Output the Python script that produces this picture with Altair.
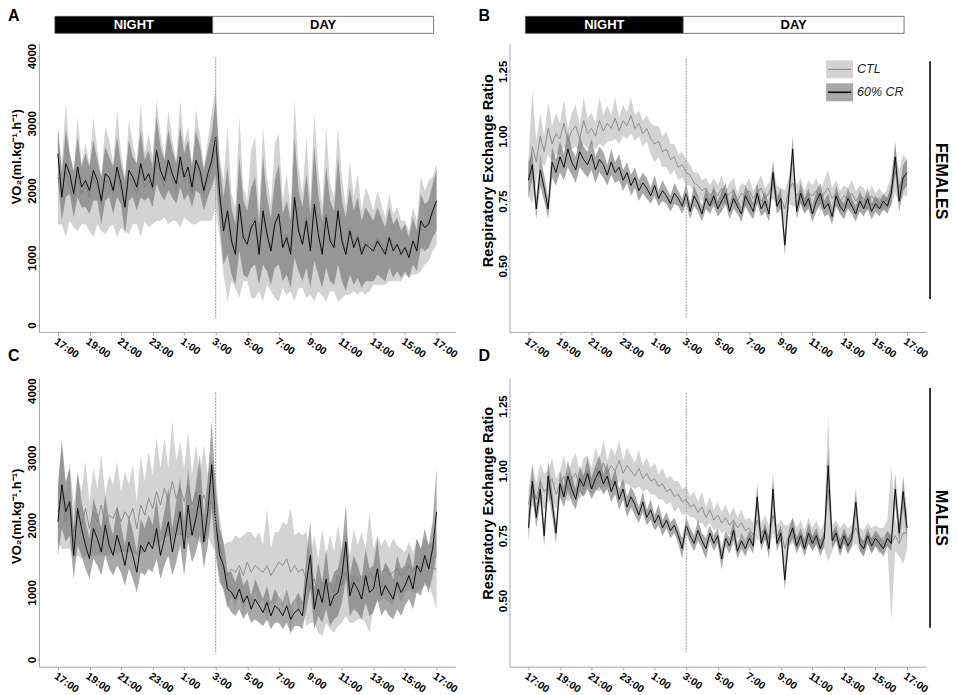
import json
import altair as alt
import pandas as pd

FONT = "Liberation Sans"

# ---- time axis (hours after 17:00, one sample every 15 min) ----
STEP_H = 0.25
T = [i * STEP_H for i in range(97)]
X_DOMAIN = [-1.2, 25.2]
TICK_HOURS = [0, 2, 4, 6, 8, 10, 12, 14, 16, 18, 20, 22, 24]
TICK_LABELS = ["17:00", "19:00", "21:00", "23:00", "1:00", "3:00", "5:00",
               "7:00", "9:00", "11:00", "13:00", "15:00", "17:00"]
LIGHTS_ON_H = 10  # 3:00
PHASES = ["NIGHT", "DAY"]
PHASE_START = [0, 10]
PHASE_END = [10, 24]
GROUPS = ["CTL", "60% CR"]

VO2_TICKS = [0, 1000, 2000, 3000, 4000]
RER_TICKS = [0.5, 0.75, 1.0, 1.25]
VO2_DOMAIN = [-105, 4190]
RER_DOMAIN = [0.245, 1.358]
VO2_VLINE = [3980, 90]
RER_VLINE = [1.30, 0.30]

# ---- A: females VO2 ----
A_CTL_MEAN = [
    2200, 1950, 2300, 2050, 1850, 2250, 1950, 2100,
    1900, 2200, 2050, 1800, 2150, 2100, 1950, 2250,
    2000, 1800, 2200, 2100, 1950, 2300, 2050, 2150,
    2000, 2450, 2200, 2050, 2350, 2150, 2000, 2400,
    2150, 2250, 1950, 2350, 2200, 1950, 2150, 2350,
    2650, 1900, 1450, 1650, 1300, 1150, 1750, 1350,
    1250, 1500, 1600, 1100, 1650, 1400, 1150, 1550,
    1600, 1200, 1350, 1100, 1850, 1450, 1250, 1600,
    1150, 1750, 1400, 1100, 1650, 1300, 1200, 1650,
    1300, 1100, 1450, 1200, 1350, 1100, 1250, 1200,
    1150, 1300, 1200, 1100, 1300, 1150, 1200, 1100,
    1150, 1050, 1250, 1150, 1500, 1450, 1550, 1650,
    1800]
A_CTL_SD = [
    700, 450, 1000, 500, 400, 850, 450, 600,
    500, 900, 550, 400, 800, 650, 450, 950,
    550, 400, 850, 600, 450, 1000, 500, 700,
    500, 900, 650, 450, 850, 600, 450, 950,
    550, 700, 450, 850, 650, 400, 600, 800,
    900, 600, 700, 1300, 650, 600, 1350, 700,
    600, 1100, 1200, 600, 1300, 800, 650, 1150,
    1250, 650, 900, 600, 1500, 900, 700, 1200,
    700, 1400, 900, 650, 1300, 800, 700, 1300,
    900, 650, 1000, 700, 900, 600, 800, 700,
    550, 700, 600, 500, 650, 500, 550, 450,
    400, 350, 500, 400, 700, 550, 600, 550,
    600]
A_CR_MEAN = [
    2550, 1900, 2400, 2250, 1950, 2350, 2050, 2150,
    2000, 2300, 2150, 1850, 2250, 2200, 2000, 2350,
    2100, 1750, 2300, 2200, 2050, 2400, 2150, 2250,
    2050, 2600, 2300, 2150, 2450, 2250, 2100, 2500,
    2200, 2350, 2050, 2450, 2300, 2000, 2250, 2450,
    2800, 1950, 1400, 1700, 1250, 1050, 1800, 1300,
    1200, 1450, 1550, 1050, 1700, 1350, 1100, 1500,
    1650, 1150, 1300, 1050, 1900, 1400, 1200, 1550,
    1100, 1800, 1350, 1050, 1600, 1250, 1150, 1700,
    1250, 1050, 1400, 1150, 1300, 1050, 1200, 1150,
    1100, 1250, 1150, 1050, 1300, 1100, 1200, 1050,
    1150, 1000, 1250, 1100, 1550, 1450, 1500, 1700,
    1850]
A_CR_SD = [
    400, 350, 500, 300, 350, 450, 300, 400,
    350, 450, 300, 350, 400, 300, 350, 450,
    300, 400, 450, 300, 350, 500, 300, 350,
    300, 500, 350, 300, 450, 350, 300, 450,
    350, 400, 300, 450, 350, 300, 350, 400,
    550, 450, 500, 650, 500, 450, 700, 550,
    500, 600, 650, 450, 800, 550, 500, 650,
    750, 500, 550, 500, 900, 600, 550, 700,
    550, 850, 600, 500, 750, 600, 550, 800,
    600, 550, 650, 550, 600, 500, 550, 500,
    450, 500, 450, 400, 450, 400, 400, 350,
    350, 300, 350, 300, 400, 350, 350, 400,
    450]

# ---- B: females RER ----
B_CTL_MEAN = [
    0.84, 0.96, 0.90, 1.00, 0.94, 1.03, 0.97, 1.01,
    0.99, 1.05, 0.98, 1.02, 1.04, 0.99, 1.06, 1.01,
    1.03, 1.00, 1.06, 1.02, 1.05, 1.03, 1.07, 1.02,
    1.06, 1.04, 1.08, 1.03, 1.05, 1.01, 1.03, 0.99,
    0.97, 0.98, 0.94, 0.95, 0.91, 0.92, 0.88, 0.89,
    0.86, 0.85, 0.82, 0.81, 0.79, 0.80, 0.77, 0.79,
    0.77, 0.80, 0.76, 0.78, 0.79, 0.75, 0.78, 0.77,
    0.79, 0.76, 0.78, 0.80, 0.76, 0.78, 0.82, 0.77,
    0.76, 0.72, 0.79, 0.82, 0.77, 0.79, 0.75, 0.78,
    0.77, 0.79, 0.75, 0.78, 0.80, 0.76, 0.78, 0.75,
    0.77, 0.76, 0.78, 0.75, 0.77, 0.76, 0.74, 0.77,
    0.75, 0.76, 0.74, 0.76, 0.79, 0.87, 0.80, 0.85,
    0.84]
B_CTL_SD = [
    0.07, 0.22, 0.08, 0.09, 0.06, 0.10, 0.07, 0.08,
    0.06, 0.09, 0.05, 0.07, 0.08, 0.05, 0.09, 0.06,
    0.06, 0.05, 0.09, 0.06, 0.07, 0.05, 0.08, 0.05,
    0.06, 0.05, 0.07, 0.05, 0.05, 0.05, 0.05, 0.06,
    0.07, 0.06, 0.06, 0.07, 0.06, 0.05, 0.05, 0.05,
    0.05, 0.04, 0.04, 0.05, 0.04, 0.04, 0.04, 0.05,
    0.04, 0.05, 0.03, 0.04, 0.05, 0.03, 0.04, 0.04,
    0.05, 0.03, 0.04, 0.05, 0.04, 0.04, 0.06, 0.04,
    0.04, 0.07, 0.05, 0.09, 0.04, 0.05, 0.04, 0.05,
    0.04, 0.05, 0.04, 0.05, 0.07, 0.04, 0.05, 0.04,
    0.04, 0.04, 0.05, 0.04, 0.04, 0.04, 0.03, 0.04,
    0.03, 0.04, 0.03, 0.04, 0.06, 0.09, 0.06, 0.08,
    0.07]
B_CR_MEAN = [
    0.83, 0.89, 0.72, 0.87, 0.80, 0.72, 0.90, 0.86,
    0.92, 0.88, 0.95, 0.90, 0.87, 0.94, 0.91, 0.89,
    0.93, 0.87, 0.91, 0.89, 0.85, 0.90, 0.86, 0.88,
    0.83, 0.86, 0.81, 0.84, 0.79, 0.82, 0.80, 0.77,
    0.81, 0.76, 0.79, 0.77, 0.74, 0.78, 0.76, 0.73,
    0.78, 0.71, 0.77, 0.74, 0.70, 0.76, 0.73, 0.77,
    0.72, 0.75, 0.78, 0.71, 0.76, 0.73, 0.70, 0.77,
    0.74, 0.71, 0.78, 0.72, 0.75, 0.70, 0.86, 0.73,
    0.76, 0.58, 0.77, 0.95, 0.71, 0.78, 0.73, 0.76,
    0.70, 0.75, 0.78, 0.72, 0.74, 0.69, 0.77, 0.73,
    0.71, 0.76, 0.73, 0.70, 0.75, 0.72, 0.76, 0.71,
    0.74, 0.72, 0.75, 0.73, 0.78, 0.92, 0.75, 0.84,
    0.86]
B_CR_SD = [
    0.07, 0.05, 0.04, 0.06, 0.05, 0.04, 0.06, 0.05,
    0.06, 0.05, 0.07, 0.05, 0.05, 0.06, 0.05, 0.05,
    0.06, 0.05, 0.05, 0.05, 0.04, 0.05, 0.04, 0.05,
    0.04, 0.04, 0.04, 0.04, 0.04, 0.04, 0.04, 0.03,
    0.04, 0.03, 0.04, 0.03, 0.03, 0.04, 0.03, 0.03,
    0.04, 0.03, 0.04, 0.03, 0.03, 0.04, 0.03, 0.04,
    0.03, 0.04, 0.04, 0.03, 0.04, 0.03, 0.03, 0.04,
    0.04, 0.03, 0.04, 0.03, 0.04, 0.03, 0.05, 0.03,
    0.04, 0.04, 0.04, 0.05, 0.03, 0.04, 0.03, 0.04,
    0.03, 0.04, 0.04, 0.03, 0.04, 0.03, 0.04, 0.03,
    0.03, 0.04, 0.03, 0.03, 0.04, 0.03, 0.04, 0.03,
    0.03, 0.03, 0.03, 0.03, 0.04, 0.06, 0.04, 0.05,
    0.05]

# ---- C: males VO2 ----
C_CTL_MEAN = [
    2200, 2450, 2050, 2300, 1900, 2150, 2000, 2250,
    1950, 2200, 2050, 2300, 2000, 2150, 2100, 2250,
    2050, 2200, 2100, 2250, 1950, 2300, 2150, 2400,
    2250, 2500, 2300, 2550, 2350, 2650, 2400, 2550,
    2350, 2600, 2300, 2500, 2250, 2450, 2300, 2350,
    2150, 1700, 1350, 1250, 1350, 1300, 1400, 1250,
    1450, 1300, 1400, 1350, 1300, 1400, 1250, 1350,
    1450, 1400, 1500, 1300, 1400, 1300, 1350, 1200,
    1050, 1200, 950, 1150, 1050, 1150, 1000, 1250,
    1100, 1300, 1050, 1250, 1150, 1250, 1100, 1300,
    1200, 1350, 1300, 1350, 1250, 1300, 1350, 1250,
    1300, 1400, 1300, 1400, 1350, 1450, 1400, 1350,
    1350]
C_CTL_SD = [
    450, 800, 400, 650, 400, 600, 500, 700,
    400, 650, 500, 750, 450, 600, 500, 700,
    450, 600, 500, 650, 400, 750, 500, 700,
    500, 800, 550, 750, 500, 900, 550, 700,
    500, 800, 450, 700, 500, 750, 450, 650,
    550, 450, 350, 500, 400, 550, 400, 600,
    450, 600, 400, 550, 400, 850, 400, 550,
    450, 650, 500, 950, 450, 600, 500, 700,
    500, 650, 550, 800, 500, 700, 600, 750,
    550, 650, 500, 700, 550, 650, 550, 900,
    450, 500, 400, 450, 400, 500, 350, 400,
    300, 350, 300, 400, 300, 350, 300, 400,
    600]
C_CR_MEAN = [
    2050, 2600, 2200, 2350, 1550, 2250, 1950, 1700,
    1500, 1950, 1800, 1600, 2000, 1700, 1550, 1850,
    1650, 1400, 1750, 1550, 1300, 1700, 1600, 1750,
    1650, 1950, 1550, 1800, 2050, 1600, 1900, 2200,
    1650, 2300, 1850, 2100, 2450, 1750, 2200, 2900,
    2050, 1550, 1400, 1050, 1000, 900, 1050, 850,
    950, 750, 900, 800, 700, 850, 650, 800,
    750, 650, 800, 600, 700, 750, 650, 1150,
    1550, 750, 1050, 850, 1200, 800, 950, 1000,
    1250, 1750, 950, 1150, 1050, 900, 1250, 1000,
    1050, 1350, 950, 1100, 1000, 900, 1150, 1000,
    1100, 1250, 1050, 1400, 1300, 1550, 1350, 1650,
    2200]
C_CR_SD = [
    500, 650, 450, 500, 350, 550, 400, 350,
    300, 450, 400, 350, 450, 350, 300, 450,
    350, 300, 400, 350, 300, 400, 350, 400,
    350, 450, 350, 400, 500, 350, 450, 500,
    400, 550, 400, 500, 600, 400, 500, 650,
    500, 400, 350, 250, 300, 250, 300, 250,
    250, 200, 300, 250, 200, 250, 200, 250,
    200, 200, 250, 200, 200, 250, 200, 400,
    500, 300, 400, 300, 450, 300, 350, 350,
    400, 550, 300, 400, 350, 300, 400, 350,
    350, 450, 300, 350, 350, 300, 400, 350,
    300, 350, 300, 400, 350, 400, 350, 400,
    650]

# ---- D: males RER ----
D_CTL_MEAN = [
    0.87, 0.95, 0.89, 0.96, 0.92, 0.94, 0.97, 0.91,
    0.95, 0.98, 0.93, 0.97, 0.99, 0.94, 0.98, 1.00,
    0.96, 1.01, 0.98, 1.03, 0.99, 1.02, 1.00, 1.04,
    0.99, 1.02, 1.00, 0.98, 1.01, 0.97, 0.99, 0.96,
    0.97, 0.94, 0.95, 0.92, 0.93, 0.90, 0.91, 0.88,
    0.89, 0.86, 0.87, 0.84, 0.86, 0.82, 0.85, 0.81,
    0.83, 0.80, 0.82, 0.79, 0.81, 0.78, 0.80, 0.77,
    0.78, 0.75, 0.81, 0.76, 0.78, 0.74, 0.83, 0.75,
    0.77, 0.70, 0.75, 0.77, 0.74, 0.76, 0.73, 0.77,
    0.74, 0.76, 0.73, 0.75, 0.93, 0.74, 0.77, 0.73,
    0.76, 0.73, 0.75, 0.78, 0.74, 0.72, 0.76, 0.73,
    0.75, 0.73, 0.74, 0.76, 0.72, 0.75, 0.72, 0.76,
    0.76]
D_CTL_SD = [
    0.06, 0.08, 0.06, 0.07, 0.07, 0.06, 0.08, 0.06,
    0.05, 0.08, 0.05, 0.07, 0.08, 0.05, 0.07, 0.06,
    0.05, 0.08, 0.06, 0.09, 0.05, 0.07, 0.06, 0.08,
    0.05, 0.07, 0.06, 0.05, 0.07, 0.05, 0.06, 0.05,
    0.06, 0.05, 0.06, 0.05, 0.05, 0.06, 0.05, 0.05,
    0.05, 0.04, 0.05, 0.04, 0.06, 0.04, 0.05, 0.04,
    0.05, 0.04, 0.05, 0.04, 0.05, 0.04, 0.05, 0.04,
    0.04, 0.05, 0.07, 0.04, 0.05, 0.05, 0.07, 0.04,
    0.04, 0.09, 0.04, 0.05, 0.04, 0.05, 0.04, 0.05,
    0.04, 0.05, 0.04, 0.05, 0.28, 0.05, 0.04, 0.05,
    0.04, 0.05, 0.04, 0.06, 0.04, 0.05, 0.04, 0.05,
    0.04, 0.05, 0.04, 0.05, 0.30, 0.06, 0.05, 0.12,
    0.06]
D_CR_MEAN = [
    0.78, 0.96, 0.82, 0.93, 0.75, 0.98, 0.88, 0.76,
    0.95, 0.90, 0.98, 0.93, 0.89, 0.97, 0.94, 0.99,
    0.93, 0.97, 1.00, 0.95, 0.98, 0.92, 0.96, 0.89,
    0.93, 0.86, 0.90, 0.87, 0.83, 0.88, 0.82, 0.85,
    0.80, 0.83, 0.78, 0.81, 0.77, 0.79, 0.75, 0.70,
    0.79, 0.75, 0.72, 0.77, 0.73, 0.70, 0.76, 0.72,
    0.75, 0.66, 0.74, 0.71, 0.77, 0.69, 0.73, 0.70,
    0.74, 0.71, 0.90, 0.72, 0.77, 0.70, 0.93, 0.72,
    0.76, 0.58, 0.74, 0.78, 0.71, 0.75, 0.70, 0.76,
    0.72, 0.75, 0.70, 0.74, 1.02, 0.73, 0.76, 0.70,
    0.75, 0.71, 0.74, 0.88, 0.72, 0.70, 0.75, 0.71,
    0.74, 0.72, 0.70, 0.74, 0.72, 0.93, 0.76, 0.92,
    0.78]
D_CR_SD = [
    0.05, 0.06, 0.04, 0.05, 0.04, 0.06, 0.05, 0.04,
    0.05, 0.04, 0.06, 0.05, 0.04, 0.05, 0.04, 0.06,
    0.04, 0.05, 0.06, 0.04, 0.05, 0.04, 0.05, 0.04,
    0.04, 0.04, 0.04, 0.04, 0.03, 0.04, 0.03, 0.04,
    0.03, 0.04, 0.03, 0.03, 0.03, 0.03, 0.03, 0.04,
    0.03, 0.03, 0.03, 0.04, 0.03, 0.04, 0.03, 0.03,
    0.03, 0.04, 0.03, 0.03, 0.04, 0.03, 0.03, 0.03,
    0.03, 0.03, 0.05, 0.03, 0.03, 0.04, 0.06, 0.03,
    0.03, 0.04, 0.03, 0.04, 0.03, 0.03, 0.03, 0.04,
    0.03, 0.03, 0.03, 0.03, 0.06, 0.03, 0.03, 0.03,
    0.03, 0.03, 0.03, 0.05, 0.03, 0.03, 0.03, 0.03,
    0.03, 0.03, 0.03, 0.03, 0.03, 0.06, 0.04, 0.06,
    0.05]

for arr in (A_CTL_MEAN, A_CTL_SD, A_CR_MEAN, A_CR_SD, B_CTL_MEAN, B_CTL_SD,
            B_CR_MEAN, B_CR_SD, C_CTL_MEAN, C_CTL_SD, C_CR_MEAN, C_CR_SD,
            D_CTL_MEAN, D_CTL_SD, D_CR_MEAN, D_CR_SD):
    assert len(arr) == len(T), len(arr)

# ---- styles ----
CTL_BAND, CTL_BAND_OP = "#c4c4c4", 0.75
CR_BAND, CR_BAND_OP = "#6e6e6e", 0.6
CTL_LINE, CR_LINE = "#7c7c7c", "#000000"
AXIS_GREY = "#a8a8a8"
W, H = 417, 289
LABEL_EXPR = json.dumps(TICK_LABELS) + "[round(datum.value / 2)]"


def series_df(ctl_m, ctl_s, cr_m, cr_s):
    rows = []
    for g, m, s in ((GROUPS[0], ctl_m, ctl_s), (GROUPS[1], cr_m, cr_s)):
        for t, mv, sv in zip(T, m, s):
            rows.append({"t": t, "group": g, "mean": mv, "sd": sv})
    return pd.DataFrame(rows)


def panel(df, ydom, yticks, yfmt, ytitle, tsize, ty, letter, ly, vline,
          banner=False, side=None, side_y=140, side_line=(10, 250), legend=False):
    xs = alt.Scale(domain=X_DOMAIN, nice=False, zero=False)
    ys = alt.Scale(domain=ydom, nice=False, zero=False)
    xaxis = alt.Axis(values=TICK_HOURS, labelExpr=LABEL_EXPR, title=None,
                     labelAngle=35, labelAlign="left", labelBaseline="top",
                     labelFontSize=10.5, tickSize=3, labelPadding=1,
                     labelOverlap=False, labelFlush=False)
    yaxis = alt.Axis(values=yticks, format=yfmt, labelAngle=-90, labelAlign="center",
                     labelBaseline="alphabetic", labelFontSize=11.5, tickSize=2,
                     labelPadding=1, labelOverlap=False, labelFlush=False,
                     title=ytitle, titleFontSize=tsize, titleAngle=-90, titleX=-28,
                     titleY=ty, titleAlign="center", titleBaseline="top")
    X = alt.X("t:Q", scale=xs, axis=xaxis)

    def Y(f):
        return alt.Y(f, scale=ys, axis=yaxis)

    base = alt.Chart(df).transform_calculate(
        lo="datum.mean - datum.sd", hi="datum.mean + datum.sd")
    ctl = base.transform_filter(alt.datum.group == GROUPS[0])
    cr = base.transform_filter(alt.datum.group == GROUPS[1])
    layers = [
        ctl.mark_area(color=CTL_BAND, opacity=CTL_BAND_OP).encode(x=X, y=Y("lo:Q"), y2="hi:Q"),
        cr.mark_area(color=CR_BAND, opacity=CR_BAND_OP).encode(x=X, y=Y("lo:Q"), y2="hi:Q"),
        ctl.mark_line(color=CTL_LINE, strokeWidth=0.8).encode(x=X, y=Y("mean:Q")),
        cr.mark_line(color=CR_LINE, strokeWidth=0.9).encode(x=X, y=Y("mean:Q")),
        alt.Chart(pd.DataFrame({"t": [LIGHTS_ON_H], "top": [vline[0]], "bot": [vline[1]]}))
        .mark_rule(color="#9a9a9a", strokeWidth=1, strokeDash=[2, 1])
        .encode(x=X, y=Y("top:Q"), y2="bot:Q"),
        alt.Chart(pd.DataFrame({"label": [letter]}))
        .mark_text(font=FONT, fontWeight="bold", fontSize=16, align="left", baseline="top")
        .encode(x=alt.value(-31), y=alt.value(ly), text="label:N"),
    ]
    if banner:
        ban = pd.DataFrame({"phase": PHASES, "t": PHASE_START, "t2": PHASE_END})
        layers.append(
            alt.Chart(ban).mark_rect(stroke="#555555", strokeWidth=0.8, xOffset=-3, x2Offset=-3)
            .encode(x=X, x2="t2:Q", y=alt.value(-27), y2=alt.value(-10),
                    fill=alt.Fill("phase:N", scale=alt.Scale(domain=PHASES, range=["#000000", "#ffffff"]),
                                  legend=None)))
        layers.append(
            alt.Chart(ban).transform_calculate(t="(datum.t + datum.t2) / 2")
            .mark_text(font=FONT, fontWeight="bold", fontSize=13, dx=-3, baseline="middle", align="center")
            .encode(x=X, y=alt.value(-18), text="phase:N",
                    color=alt.Color("phase:N", scale=alt.Scale(domain=PHASES, range=["#ffffff", "#000000"]),
                                    legend=None)))
    if side:
        sd = pd.DataFrame({"label": [side]})
        layers.append(
            alt.Chart(sd).mark_text(angle=90, font=FONT, fontWeight="bold", fontSize=16,
                                    align="center", baseline="middle")
            .encode(x=alt.value(432), y=alt.value(side_y), text="label:N"))
        layers.append(
            alt.Chart(sd).mark_rule(color="black", strokeWidth=1.6)
            .encode(x=alt.value(421), y=alt.value(side_line[0]), y2=alt.value(side_line[1])))
    if legend:
        items = [(GROUPS[0], CTL_BAND, CTL_BAND_OP, CTL_LINE, 1.0),
                 (GROUPS[1], CR_BAND, CR_BAND_OP, CR_LINE, 1.6)]
        for k, (name, bc, bo, lc, lw) in enumerate(items):
            y0 = 17 + 23 * k
            ld = pd.DataFrame({"label": [name]})
            layers.append(alt.Chart(ld).mark_rect(color=bc, opacity=bo)
                          .encode(x=alt.value(317), x2=alt.value(344),
                                  y=alt.value(y0), y2=alt.value(y0 + 18)))
            layers.append(alt.Chart(ld).mark_rule(color=lc, strokeWidth=lw)
                          .encode(x=alt.value(319), x2=alt.value(342), y=alt.value(y0 + 9)))
            layers.append(alt.Chart(ld).mark_text(font=FONT, fontStyle="italic", fontSize=12.5,
                                                  align="left", baseline="middle", color="#222222")
                          .encode(x=alt.value(348), y=alt.value(y0 + 9), text="label:N"))
    return alt.layer(*layers).properties(width=W, height=H)


VO2_TITLE = "VO\u2082(ml.kg\u207b\u00b9.h\u207b\u00b9)"
RER_TITLE = "Respiratory Exchange Ratio"

pA = panel(series_df(A_CTL_MEAN, A_CTL_SD, A_CR_MEAN, A_CR_SD), VO2_DOMAIN, VO2_TICKS, "d",
           VO2_TITLE, 13, 113, "A", -35, VO2_VLINE, banner=True)
pB = panel(series_df(B_CTL_MEAN, B_CTL_SD, B_CR_MEAN, B_CR_SD), RER_DOMAIN, RER_TICKS, ".2f",
           RER_TITLE, 14.5, 127, "B", -35, RER_VLINE, banner=True, side="FEMALES",
           side_y=138, side_line=(18, 256), legend=True)
pC = panel(series_df(C_CTL_MEAN, C_CTL_SD, C_CR_MEAN, C_CR_SD), VO2_DOMAIN, VO2_TICKS, "d",
           VO2_TITLE, 13, 138, "C", -30, VO2_VLINE)
pD = panel(series_df(D_CTL_MEAN, D_CTL_SD, D_CR_MEAN, D_CR_SD), RER_DOMAIN, RER_TICKS, ".2f",
           RER_TITLE, 14.5, 125, "D", -30, RER_VLINE, side="MALES",
           side_y=140, side_line=(10, 250))

chart = alt.concat(pA, pB, pC, pD, columns=2, spacing={"row": 46, "column": 54},
                   bounds="flush").properties(padding=0)
chart = chart.configure_view(stroke=None).configure_axis(
    grid=False, domainColor=AXIS_GREY, tickColor=AXIS_GREY, domainWidth=1,
    labelFont=FONT, titleFont=FONT, labelFontWeight="bold", titleFontWeight="bold",
    labelColor="black", titleColor="black")

chart.save("out.html", embed_options={"renderer": "svg", "actions": False})
